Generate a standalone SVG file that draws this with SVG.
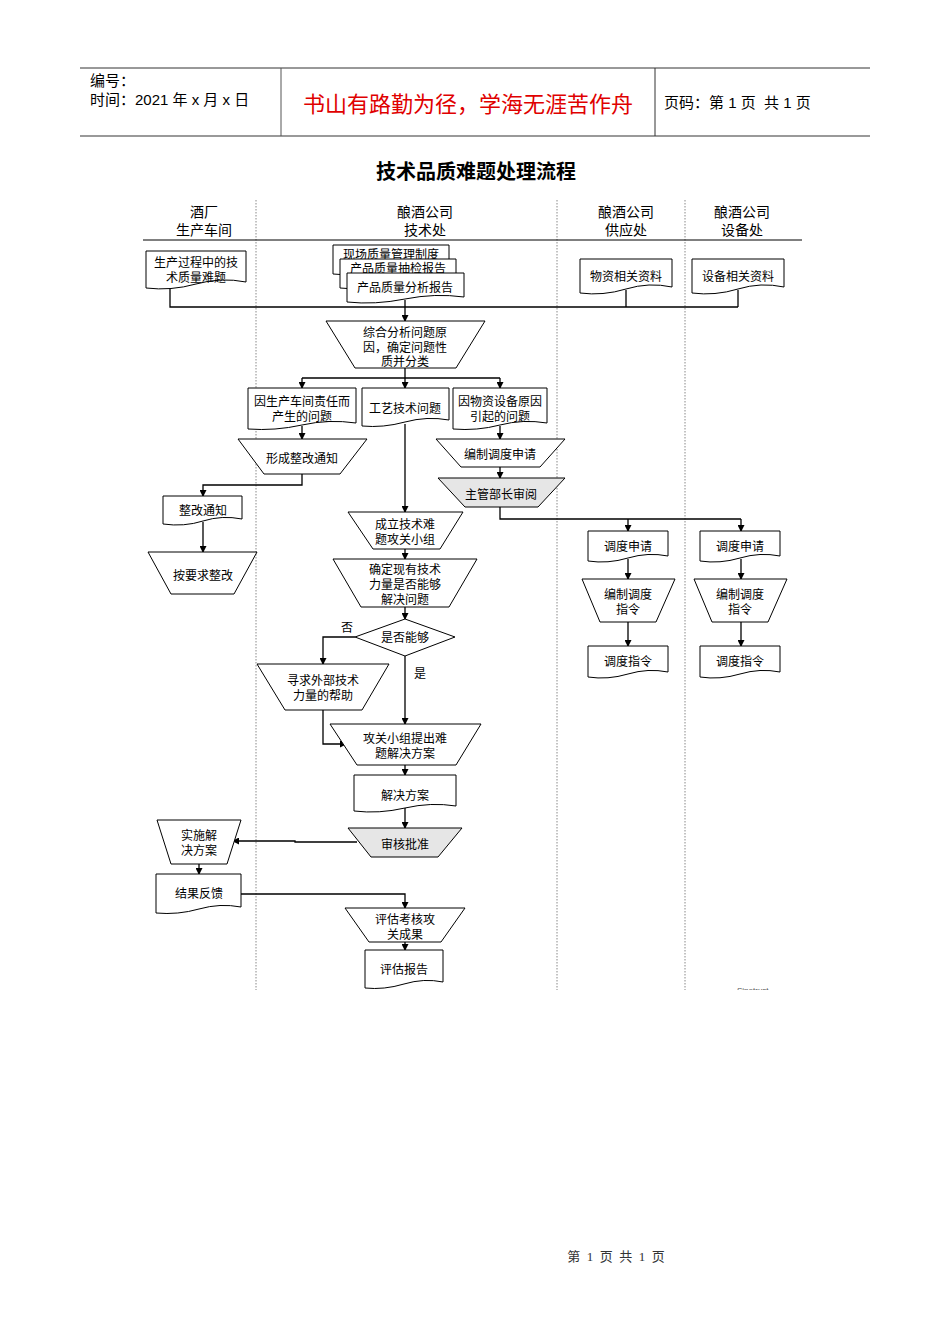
<svg xmlns="http://www.w3.org/2000/svg" width="950" height="1344" viewBox="0 0 950 1344">
<style>
.t{font-family:"Liberation Sans","Noto Sans CJK SC",sans-serif;font-size:12px;fill:#000;text-anchor:middle}
.h{font-family:"Liberation Sans","Noto Sans CJK SC",sans-serif;font-size:14px;fill:#000;text-anchor:middle}
.s{fill:#fff;stroke:#000;stroke-width:1}
.g{fill:#e6e6e6;stroke:#000;stroke-width:1}
.c{fill:none;stroke:#000;stroke-width:1.3}
.lane{stroke:#888;stroke-width:1;stroke-dasharray:1.5 1.5}
.pre{white-space:pre}
</style>
<defs>
<marker id="a" markerWidth="7" markerHeight="7" refX="6" refY="3.5" orient="auto" markerUnits="userSpaceOnUse">
<path d="M0,0 L7,3.5 L0,7 Z" fill="#000"/>
</marker>
<clipPath id="clipB"><rect x="0" y="0" width="950" height="990"/></clipPath>
</defs>
<rect width="950" height="1344" fill="#fff"/>

<g id="header">
<line x1="80" y1="68" x2="870" y2="68" stroke="#333" stroke-width="1"/>
<line x1="80" y1="136" x2="870" y2="136" stroke="#777" stroke-width="1.5"/>
<line x1="281" y1="68" x2="281" y2="136" stroke="#555" stroke-width="1"/>
<line x1="655" y1="68" x2="655" y2="136" stroke="#333" stroke-width="1"/>
<text x="90" y="86" font-family="Liberation Sans,'Noto Sans CJK SC',sans-serif" font-size="15">编号：</text>
<text x="90" y="105" font-family="Liberation Sans,'Noto Sans CJK SC',sans-serif" font-size="15">时间：2021 年 x 月 x 日</text>
<text x="468" y="112" font-family="Liberation Sans,'Noto Sans CJK SC',sans-serif" font-size="22" fill="#e00000" text-anchor="middle">书山有路勤为径，学海无涯苦作舟</text>
<text class="pre" xml:space="preserve" x="664" y="108" font-family="Liberation Sans,'Noto Sans CJK SC',sans-serif" font-size="15">页码：第 1 页  共 1 页</text>
</g>

<text x="476" y="179" font-family="Liberation Sans,'Noto Sans CJK SC',sans-serif" font-size="20" font-weight="bold" text-anchor="middle">技术品质难题处理流程</text>

<g id="lanes">
<line class="lane" x1="256" y1="200" x2="256" y2="990"/>
<line class="lane" x1="557" y1="200" x2="557" y2="990"/>
<line class="lane" x1="685" y1="200" x2="685" y2="990"/>
<line x1="143" y1="240" x2="802" y2="240" stroke="#000" stroke-width="1"/>
<text class="h" x="204" y="217">酒厂</text>
<text class="h" x="204" y="235">生产车间</text>
<text class="h" x="425" y="217">酿酒公司</text>
<text class="h" x="425" y="235">技术处</text>
<text class="h" x="626" y="217">酿酒公司</text>
<text class="h" x="626" y="235">供应处</text>
<text class="h" x="742" y="217">酿酒公司</text>
<text class="h" x="742" y="235">设备处</text>
</g>

<g id="connectors">
<polyline class="c" points="170,286 170,307 738,307" stroke-width="2"/>
<line class="c" x1="626" y1="290" x2="626" y2="307"/>
<line class="c" x1="738" y1="290" x2="738" y2="307"/>
<line class="c" x1="405" y1="300" x2="405" y2="321" marker-end="url(#a)"/>
<line class="c" x1="405" y1="368" x2="405" y2="378"/>
<line class="c" x1="302" y1="378" x2="500" y2="378"/>
<line class="c" x1="302" y1="378" x2="302" y2="388" marker-end="url(#a)"/>
<line class="c" x1="405" y1="378" x2="405" y2="388" marker-end="url(#a)"/>
<line class="c" x1="500" y1="378" x2="500" y2="388" marker-end="url(#a)"/>
<line class="c" x1="302" y1="426" x2="302" y2="439" marker-end="url(#a)"/>
<polyline class="c" points="302,474 302,485 203,485 203,496" marker-end="url(#a)"/>
<line class="c" x1="203" y1="522" x2="203" y2="552" marker-end="url(#a)"/>
<line class="c" x1="500" y1="426" x2="500" y2="439" marker-end="url(#a)"/>
<line class="c" x1="500" y1="467" x2="500" y2="478" marker-end="url(#a)"/>
<polyline class="c" points="500,507 500,519 741,519"/>
<line class="c" x1="628" y1="519" x2="628" y2="531" marker-end="url(#a)"/>
<line class="c" x1="741" y1="519" x2="741" y2="531" marker-end="url(#a)"/>
<line class="c" x1="628" y1="559" x2="628" y2="579" marker-end="url(#a)"/>
<line class="c" x1="741" y1="559" x2="741" y2="579" marker-end="url(#a)"/>
<line class="c" x1="628" y1="622" x2="628" y2="646" marker-end="url(#a)"/>
<line class="c" x1="741" y1="622" x2="741" y2="646" marker-end="url(#a)"/>
<line class="c" x1="405" y1="424" x2="405" y2="512" marker-end="url(#a)"/>
<line class="c" x1="405" y1="549" x2="405" y2="559" marker-end="url(#a)"/>
<line class="c" x1="405" y1="607" x2="405" y2="619" marker-end="url(#a)"/>
<polyline class="c" points="355,637 323,637 323,664" marker-end="url(#a)"/>
<line class="c" x1="405" y1="656" x2="405" y2="724" marker-end="url(#a)"/>
<polyline class="c" points="323,710 323,744 346,744" marker-end="url(#a)"/>
<line class="c" x1="405" y1="765" x2="405" y2="775" marker-end="url(#a)"/>
<line class="c" x1="405" y1="808" x2="405" y2="828" marker-end="url(#a)"/>
<polyline class="c" points="357,842 295,842 295,841 233,841" marker-end="url(#a)"/>
<line class="c" x1="199" y1="864" x2="199" y2="874" marker-end="url(#a)"/>
<polyline class="c" points="241,894 405,894 405,908" marker-end="url(#a)"/>
<line class="c" x1="405" y1="942" x2="405" y2="950" marker-end="url(#a)"/>
<text class="t" x="347" y="632">否</text>
<text class="t" x="420" y="678">是</text>
</g>

<g id="n_prodproblem">
<path class="s" d="M146,251 H246 V282 Q221,277 196,284 T146,288 Z"/>
<text class="t" x="196" y="267">生产过程中的技</text>
<text class="t" x="196" y="282">术质量难题</text>
</g>
<g id="n_docs">
<path class="s" d="M333,245 H449 V269 Q420,265 391,271 T333,274 Z"/>
<text class="t" x="391" y="259">现场质量管理制度</text>
<path class="s" d="M340,259 H456 V283 Q427,279 398,285 T340,288 Z"/>
<text class="t" x="398" y="273">产品质量抽检报告</text>
<path class="s" d="M347,273 H464 V297 Q435,293 405,299 T347,302 Z"/>
<text class="t" x="405" y="292">产品质量分析报告</text>
</g>
<g id="n_wuzi">
<path class="s" d="M580,259 H672 V287 Q649,282 626,289 T580,293 Z"/>
<text class="t" x="626" y="281">物资相关资料</text>
</g>
<g id="n_shebei">
<path class="s" d="M692,259 H784 V287 Q761,282 738,289 T692,293 Z"/>
<text class="t" x="738" y="281">设备相关资料</text>
</g>
<g id="n_analyze">
<path class="s" d="M326,321 H485 L456,368 H355 Z"/>
<text class="t" x="405" y="337">综合分析问题原</text>
<text class="t" x="405" y="352">因，确定问题性</text>
<text class="t" x="405" y="366">质并分类</text>
</g>
<g id="n_cause1">
<path class="s" d="M248,388 H356 V423 Q329,419 302,425 T248,429 Z"/>
<text class="t" x="302" y="406">因生产车间责任而</text>
<text class="t" x="302" y="421">产生的问题</text>
</g>
<g id="n_cause2">
<path class="s" d="M362,388 H449 V420 Q427,416 405,422 T362,426 Z"/>
<text class="t" x="405" y="413">工艺技术问题</text>
</g>
<g id="n_cause3">
<path class="s" d="M453,388 H547 V423 Q523,419 500,425 T453,429 Z"/>
<text class="t" x="500" y="406">因物资设备原因</text>
<text class="t" x="500" y="421">引起的问题</text>
</g>
<g id="n_zhenggaitz">
<path class="s" d="M238,439 H367 L340,474 H264 Z"/>
<text class="t" x="302" y="463">形成整改通知</text>
</g>
<g id="n_tz">
<path class="s" d="M163,496 H242 V519 Q222,515 203,521 T163,524 Z"/>
<text class="t" x="203" y="515">整改通知</text>
</g>
<g id="n_zg">
<path class="s" d="M148,552 H257 L234,594 H171 Z"/>
<text class="t" x="203" y="580">按要求整改</text>
</g>
<g id="n_bianzhi">
<path class="s" d="M436,439 H565 L540,467 H461 Z"/>
<text class="t" x="500" y="459">编制调度申请</text>
</g>
<g id="n_shenyue">
<path class="g" d="M438,478 H565 L538,507 H465 Z"/>
<text class="t" x="501" y="499">主管部长审阅</text>
</g>
<g id="n_sq1">
<path class="s" d="M588,531 H668 V556 Q648,552 628,558 T588,561 Z"/>
<text class="t" x="628" y="551">调度申请</text>
</g>
<g id="n_sq2">
<path class="s" d="M700,531 H780 V556 Q760,552 740,558 T700,561 Z"/>
<text class="t" x="740" y="551">调度申请</text>
</g>
<g id="n_zl1">
<path class="s" d="M582,579 H675 L656,622 H600 Z"/>
<text class="t" x="628" y="599">编制调度</text>
<text class="t" x="628" y="614">指令</text>
</g>
<g id="n_zl2">
<path class="s" d="M694,579 H787 L768,622 H712 Z"/>
<text class="t" x="740" y="599">编制调度</text>
<text class="t" x="740" y="614">指令</text>
</g>
<g id="n_ddzl1">
<path class="s" d="M588,646 H668 V672 Q648,668 628,674 T588,677 Z"/>
<text class="t" x="628" y="666">调度指令</text>
</g>
<g id="n_ddzl2">
<path class="s" d="M700,646 H780 V672 Q760,668 740,674 T700,677 Z"/>
<text class="t" x="740" y="666">调度指令</text>
</g>
<g id="n_group">
<path class="s" d="M348,512 H463 L440,549 H373 Z"/>
<text class="t" x="405" y="529">成立技术难</text>
<text class="t" x="405" y="544">题攻关小组</text>
</g>
<g id="n_confirm">
<path class="s" d="M333,559 H477 L449,607 H361 Z"/>
<text class="t" x="405" y="574">确定现有技术</text>
<text class="t" x="405" y="589">力量是否能够</text>
<text class="t" x="405" y="604">解决问题</text>
</g>
<g id="n_decision">
<path class="s" d="M355,637 L405,619 L455,637 L405,656 Z"/>
<text class="t" x="405" y="642">是否能够</text>
</g>
<g id="n_external">
<path class="s" d="M257,664 H389 L362,710 H285 Z"/>
<text class="t" x="323" y="685">寻求外部技术</text>
<text class="t" x="323" y="700">力量的帮助</text>
</g>
<g id="n_plan">
<path class="s" d="M330,724 H481 L456,765 H357 Z"/>
<text class="t" x="405" y="743">攻关小组提出难</text>
<text class="t" x="405" y="758">题解决方案</text>
</g>
<g id="n_solution">
<path class="s" d="M354,775 H456 V806 Q431,802 405,808 T354,811 Z"/>
<text class="t" x="405" y="800">解决方案</text>
</g>
<g id="n_approve">
<path class="g" d="M348,828 H462 L438,857 H371 Z"/>
<text class="t" x="405" y="849">审核批准</text>
</g>
<g id="n_implement">
<path class="s" d="M157,820 H241 L227,864 H171 Z"/>
<text class="t" x="199" y="840">实施解</text>
<text class="t" x="199" y="855">决方案</text>
</g>
<g id="n_feedback">
<path class="s" d="M156,874 H241 V907 Q220,903 199,909 T156,913 Z"/>
<text class="t" x="199" y="898">结果反馈</text>
</g>
<g id="n_evaluate">
<path class="s" d="M345,908 H465 L441,942 H369 Z"/>
<text class="t" x="405" y="924">评估考核攻</text>
<text class="t" x="405" y="939">关成果</text>
</g>
<g id="n_report">
<path class="s" d="M365,950 H443 V982 Q424,978 404,984 T365,988 Z"/>
<text class="t" x="404" y="974">评估报告</text>
</g>

<g clip-path="url(#clipB)">
<text x="737" y="993" font-family="Liberation Sans,sans-serif" font-size="8" fill="#555">Sinotrust</text>
</g>

<text class="pre" xml:space="preserve" x="616" y="1261" font-family="Liberation Serif,'Noto Sans CJK SC',serif" font-size="13" fill="#333" text-anchor="middle">第  1  页  共  1  页</text>
</svg>
